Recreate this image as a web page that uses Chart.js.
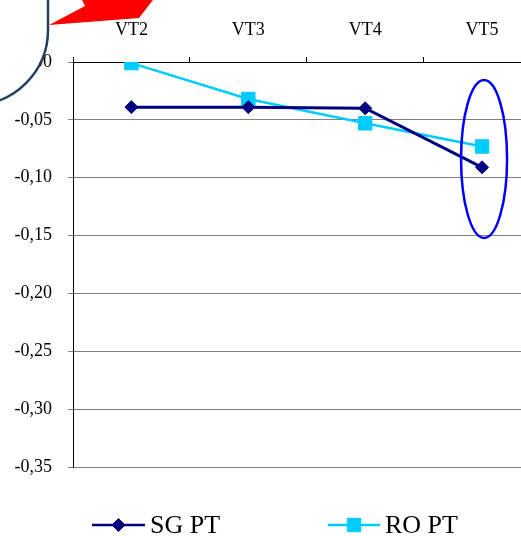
<!DOCTYPE html>
<html>
<head>
<meta charset="utf-8">
<script src="https://cdn.jsdelivr.net/npm/chart.js@4"></script>
<style>
  html, body { margin: 0; padding: 0; background: #fff; overflow: hidden; }
  #wrap { width: 551px; height: 536px; }
</style>
</head>
<body>
<div id="wrap"><canvas id="c" width="551" height="536"></canvas></div>
<script>
const categories = ['VT2', 'VT3', 'VT4', 'VT5'];
const sgPT = [-0.039, -0.039, -0.040, -0.091];
const roPT = [-0.001, -0.032, -0.053, -0.073];
const yMin = -0.35, yMax = 0, yStep = 0.05;
// value range enclosed by the highlight ellipse around the last category
const highlightRange = [-0.0155, -0.152];

const NAVY = '#000080';
const CYAN = '#00CCFF';
const FONT = "'Liberation Serif', 'Times New Roman', serif";

const overlay = {
  id: 'overlay',
  afterDraw(chart) {
    const ctx = chart.ctx;
    const xs = chart.scales.x, ys = chart.scales.y;

    // highlight ellipse around VT5
    const cx = xs.getPixelForValue(3);
    const yTop = ys.getPixelForValue(highlightRange[0]);
    const yBot = ys.getPixelForValue(highlightRange[1]);
    ctx.save();
    ctx.beginPath();
    ctx.ellipse(cx + 2, (yTop + yBot) / 2, 23, (yBot - yTop) / 2, 0, 0, Math.PI * 2);
    ctx.strokeStyle = '#0000FF';
    ctx.lineWidth = 2.5;
    ctx.stroke();
    ctx.restore();

    // callout box in the top-left corner
    ctx.save();
    ctx.beginPath();
    ctx.roundRect(-300, -300, 348, 405, 75);
    ctx.fillStyle = '#ffffff';
    ctx.fill();
    ctx.strokeStyle = '#243F60';
    ctx.lineWidth = 2.5;
    ctx.stroke();
    ctx.restore();

    // red arrow tail
    ctx.save();
    ctx.beginPath();
    ctx.moveTo(82, 0);
    ctx.lineTo(153, 0);
    ctx.lineTo(139, 18);
    ctx.lineTo(49, 25);
    ctx.lineTo(85, 6);
    ctx.closePath();
    ctx.fillStyle = '#FF0000';
    ctx.fill();
    ctx.restore();

    // legend
    const ly = chart.chartArea.bottom + 58;
    const items = [
      { label: 'SG PT', color: NAVY, style: 'rectRot', r: 6.5, x0: 92, x1: 145, tx: 150 },
      { label: 'RO PT', color: CYAN, style: 'rect', r: 9.5, x0: 328, x1: 380, tx: 385 }
    ];
    ctx.save();
    items.forEach(it => {
      ctx.beginPath();
      ctx.moveTo(it.x0, ly);
      ctx.lineTo(it.x1, ly);
      ctx.strokeStyle = it.color;
      ctx.lineWidth = 2.5;
      ctx.stroke();
      ctx.fillStyle = it.color;
      ctx.strokeStyle = it.color;
      ctx.lineWidth = 1;
      Chart.helpers.drawPoint(ctx, { pointStyle: it.style, radius: it.r, borderWidth: 1, rotation: 0 }, (it.x0 + it.x1) / 2, ly);
      ctx.fillStyle = '#000';
      ctx.font = '26px ' + FONT;
      ctx.textBaseline = 'middle';
      ctx.textAlign = 'left';
      ctx.fillText(it.label, it.tx, ly + 1);
    });
    ctx.restore();
  }
};

new Chart(document.getElementById('c'), {
  type: 'line',
  data: {
    labels: categories,
    datasets: [
      {
        label: 'SG PT',
        data: sgPT,
        borderColor: NAVY,
        backgroundColor: NAVY,
        borderWidth: 3,
        pointStyle: 'rectRot',
        pointRadius: 6.5,
        pointBorderWidth: 1,
        tension: 0
      },
      {
        label: 'RO PT',
        data: roPT,
        borderColor: CYAN,
        backgroundColor: CYAN,
        borderWidth: 2.5,
        pointStyle: 'rect',
        pointRadius: 9.5,
        pointBorderWidth: 1,
        tension: 0
      }
    ]
  },
  options: {
    responsive: false,
    animation: false,
    devicePixelRatio: 1,
    layout: { padding: { left: 0, top: 0, right: 1, bottom: 69 } },
    plugins: { legend: { display: false }, tooltip: { enabled: false } },
    scales: {
      x: {
        position: 'top',
        offset: true,
        afterFit(scale) { scale.height = 62; },
        grid: { drawOnChartArea: false, drawTicks: true, tickLength: 5, color: '#000', offset: true },
        border: { color: '#000', width: 1 },
        ticks: { color: '#000', font: { family: FONT, size: 18 }, padding: 16, maxRotation: 0 }
      },
      y: {
        min: yMin,
        max: yMax,
        afterFit(scale) { scale.width = 73; },
        afterBuildTicks(scale) {
          const t = [];
          for (let v = yMax; v >= yMin - 1e-9; v -= yStep) t.push({ value: +v.toFixed(2) });
          scale.ticks = t.reverse();
        },
        grid: { color: '#808080', lineWidth: 1, tickLength: 5, drawTicks: true },
        border: { color: '#000', width: 1 },
        ticks: {
          color: '#000',
          font: { family: FONT, size: 18 },
          padding: 16,
          callback: v => (Math.abs(v) < 1e-9 ? 0 : v).toFixed(2).replace('.', ',')
        }
      }
    }
  },
  plugins: [overlay]
});
</script>
</body>
</html>
